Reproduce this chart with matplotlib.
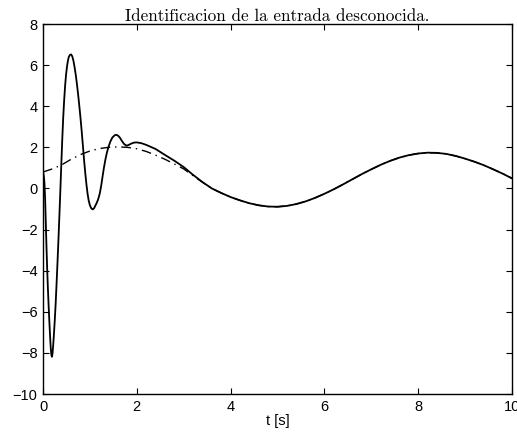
import matplotlib
matplotlib.use("Agg")
import matplotlib.pyplot as plt

# Estimated unknown input (solid)
t_est = [0.000, 0.010, 0.020, 0.030, 0.045, 0.060, 0.075, 0.090, 0.105, 0.120,
         0.135, 0.150, 0.165, 0.178, 0.190, 0.202, 0.215, 0.230, 0.250, 0.270,
         0.290, 0.310, 0.330, 0.350, 0.370, 0.390, 0.410, 0.430, 0.450, 0.470,
         0.490, 0.510, 0.530, 0.550, 0.575, 0.600, 0.625, 0.650, 0.675, 0.700,
         0.725, 0.750, 0.775, 0.800, 0.825, 0.850, 0.875, 0.900, 0.925, 0.950,
         0.975, 1.000, 1.030, 1.060, 1.090, 1.120, 1.150, 1.180, 1.210, 1.240,
         1.270, 1.300, 1.330, 1.360, 1.400, 1.440, 1.480, 1.530, 1.560, 1.600,
         1.640, 1.680, 1.730, 1.780, 1.830, 1.880, 1.940, 2.000, 2.100, 2.200,
         2.400, 2.600, 2.800, 3.000, 3.200, 3.400, 3.600, 3.800, 4.000, 4.200,
         4.400, 4.600, 4.800, 5.000, 5.200, 5.400, 5.600, 5.800, 6.000, 6.200,
         6.400, 6.600, 6.800, 7.000, 7.200, 7.400, 7.600, 7.800, 8.000, 8.200,
         8.400, 8.600, 8.800, 9.000, 9.200, 9.400, 9.600, 9.800, 10.000]
u_est = [0.80, 0.72, 0.55, 0.30, -0.50, -1.70, -2.90, -3.97, -4.90, -5.70,
         -6.45, -7.15, -7.75, -8.10, -8.19, -8.05, -7.70, -7.20, -6.45, -5.60,
         -4.60, -3.55, -2.45, -1.30, -0.10, 1.15, 2.35, 3.40, 4.25, 4.95,
         5.50, 5.90, 6.20, 6.40, 6.50, 6.52, 6.42, 6.20, 5.88, 5.50,
         5.05, 4.55, 4.00, 3.42, 2.78, 2.10, 1.40, 0.78, 0.22, -0.25,
         -0.60, -0.82, -0.97, -1.02, -0.96, -0.82, -0.68, -0.50, -0.25, 0.12,
         0.58, 1.02, 1.40, 1.72, 2.05, 2.30, 2.48, 2.59, 2.61, 2.57,
         2.47, 2.32, 2.16, 2.08, 2.12, 2.18, 2.23, 2.24, 2.20, 2.12,
         1.92, 1.63, 1.35, 1.04, 0.66, 0.31, 0.00, -0.22, -0.42, -0.58,
         -0.72, -0.82, -0.88, -0.89, -0.85, -0.76, -0.63, -0.46, -0.26, -0.04,
         0.20, 0.45, 0.70, 0.93, 1.15, 1.34, 1.50, 1.62, 1.70, 1.74,
         1.73, 1.68, 1.58, 1.45, 1.30, 1.13, 0.93, 0.72, 0.49]

# True unknown input (dash-dot)
t_ref = [0.0, 0.2, 0.4, 0.6, 0.8, 1.0, 1.2, 1.4, 1.6, 1.8,
         2.0, 2.2, 2.4, 2.6, 2.8, 3.0, 3.2, 3.4, 3.6, 3.8,
         4.0, 4.2, 4.4, 4.6, 4.8, 5.0, 5.2, 5.4, 5.6, 5.8,
         6.0, 6.2, 6.4, 6.6, 6.8, 7.0, 7.2, 7.4, 7.6, 7.8,
         8.0, 8.2, 8.4, 8.6, 8.8, 9.0, 9.2, 9.4, 9.6, 9.8, 10.0]
u_ref = [0.80, 0.95, 1.15, 1.42, 1.65, 1.82, 1.94, 2.00, 2.02, 2.00,
         1.93, 1.80, 1.62, 1.42, 1.19, 0.95, 0.62, 0.30, 0.00, -0.22,
         -0.42, -0.58, -0.72, -0.82, -0.88, -0.89, -0.85, -0.76, -0.63, -0.46,
         -0.26, -0.04, 0.20, 0.45, 0.70, 0.93, 1.15, 1.34, 1.50, 1.62,
         1.70, 1.74, 1.73, 1.68, 1.58, 1.45, 1.30, 1.13, 0.93, 0.72, 0.49]

x_ticks = [0, 2, 4, 6, 8, 10]
y_ticks = [-10, -8, -6, -4, -2, 0, 2, 4, 6, 8]
title_text = "Identificacion de la entrada desconocida."
xlabel_text = "t [s]"

fig = plt.figure(figsize=(5.17, 4.43), dpi=100)
W, H = 517, 443
ax = fig.add_axes([43 / W, 1 - 394 / H, (512 - 43) / W, (394 - 24) / H])

ax.plot(t_est, u_est, color="black", lw=1.3, solid_joinstyle="round")
ax.plot(t_ref, u_ref, color="black", lw=1.0, linestyle=(0, (7, 3.5, 1, 3.5)))

ax.set_xlim(0, 10)
ax.set_ylim(-10, 8)
ax.set_xticks(x_ticks)
ax.set_yticks(y_ticks)
ax.set_xticklabels([str(v) for v in x_ticks], fontfamily="Liberation Sans", fontsize=10.5)
ax.set_yticklabels([str(v).replace("-", "\u2212") for v in y_ticks],
                   fontfamily="Liberation Sans", fontsize=10.5)
ax.tick_params(direction="in", length=4, width=0.8, top=True, right=True)
ax.tick_params(axis="x", pad=4.5)
ax.tick_params(axis="y", pad=4)
for s in ax.spines.values():
    s.set_linewidth(1.0)

ax.set_xlabel(xlabel_text, fontfamily="Liberation Sans", fontsize=10.5, labelpad=0)
ax.set_title(title_text, fontfamily="cmr10", fontsize=12.3, pad=2)

fig.savefig("out.png", dpi=100)
